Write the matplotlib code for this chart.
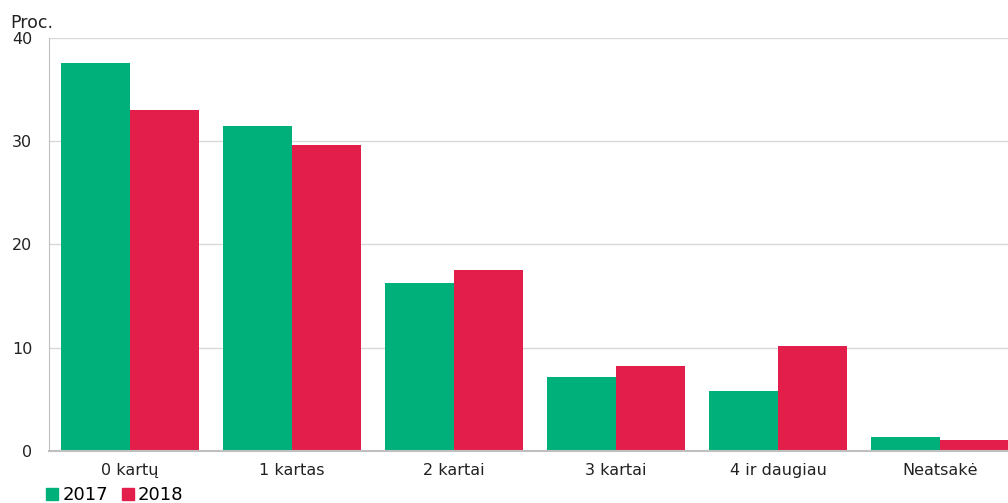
import matplotlib.pyplot as plt
import numpy as np
from matplotlib.lines import Line2D

categories = ["0 kartų", "1 kartas", "2 kartai", "3 kartai", "4 ir daugiau", "Neatsakė"]
years = ["2017", "2018"]
values_2017 = [37.6, 31.5, 16.3, 7.2, 5.8, 1.4]
values_2018 = [33.0, 29.6, 17.5, 8.2, 10.2, 1.1]
colors = ["#00b07b", "#e31e4a"]

plt.rcParams['font.family'] = ['DejaVu Sans']

fig = plt.figure(figsize=(10.08, 5.03), dpi=100)
# axes runs a little past the right edge, as in the original
ax = fig.add_axes([0.0486, 0.1034, 0.9643, 0.8211])

x = np.arange(len(categories))
w = 0.423
ax.bar(x - w / 2, values_2017, width=w, color=colors[0], zorder=3)
ax.bar(x + w / 2, values_2018, width=w, color=colors[1], zorder=3)

ax.set_xlim(-0.5, len(categories) - 0.5)
ax.set_ylim(0, 40)
ax.set_yticks([0, 10, 20, 30, 40])
ax.set_xticks(x)
ax.set_xticklabels(categories)
ax.tick_params(axis='both', length=0, labelsize=11.5, colors='#222222')
ax.tick_params(axis='y', pad=12)
ax.tick_params(axis='x', pad=9)
ax.grid(axis='y', color='#d9d9d9', linewidth=1, zorder=0)

for side in ['top', 'right']:
    ax.spines[side].set_visible(False)
ax.spines['left'].set_color('#bfbfbf')
ax.spines['bottom'].set_color('#bfbfbf')
ax.spines['bottom'].set_linewidth(1.5)
ax.spines['bottom'].set_zorder(4)

fig.text(0.01, 0.945, "Proc.", fontsize=12.5, color='#222222')

handles = [Line2D([], [], marker='s', linestyle='none', markersize=8.5, color=c) for c in colors]
fig.legend(handles, years, loc='lower left', bbox_to_anchor=(0.027, -0.035), ncol=2,
           frameon=False, fontsize=13, handletextpad=0.05, columnspacing=0.6, handlelength=1.0)

plt.savefig('out.png', dpi=100)
